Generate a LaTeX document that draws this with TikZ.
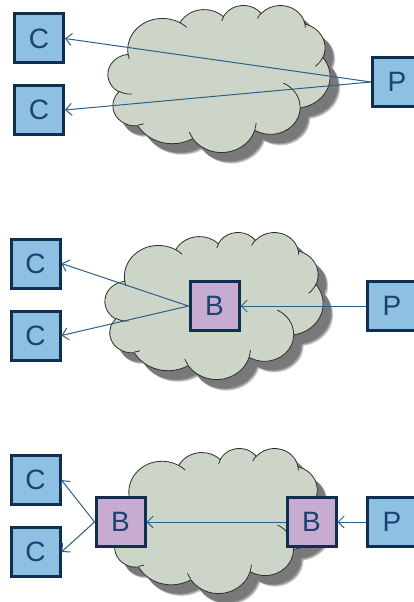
\documentclass[tikz,border=0pt]{standalone}
\usepackage{fontspec}
\setmainfont{Liberation Sans}
\usetikzlibrary{arrows.meta}
\definecolor{boxblue}{HTML}{8EC0E4}
\definecolor{boxedge}{HTML}{0E2F4F}
\definecolor{boxpurple}{HTML}{C8ABD0}
\definecolor{txt}{HTML}{1A4272}
\definecolor{cloudfill}{HTML}{CDD5C9}
\definecolor{cloudedge}{HTML}{2E2E2E}
\definecolor{arrowcol}{HTML}{2D5F8B}
\tikzset{
 oarc/.style n args={4}{x radius=#1, y radius=#2,
   start angle={atan2((#1)*sin(#3),(#2)*cos(#3))},
   delta angle={mod(atan2((#1)*sin((#3)+(#4)),(#2)*cos((#3)+(#4)))-atan2((#1)*sin(#3),(#2)*cos(#3))+720,360)}}
}
\newcommand\cloudoutline{(39.00,143.70)
 arc[oarc={67.53}{91.90}{-190.4875}{123.7805}]
 arc[oarc={53.33}{72.67}{-144.1024}{89.9452}]
 arc[oarc={43.65}{59.45}{-145.8079}{99.7230}]
 arc[oarc={48.57}{65.95}{-130.9861}{117.2417}]
 arc[oarc={53.33}{72.73}{-78.7089}{109.0269}]
 arc[oarc={67.75}{92.20}{-46.2673}{130.2690}]
 arc[oarc={57.85}{78.67}{0.6250}{114.0333}]
 arc[oarc={67.52}{92.15}{22.4516}{115.1726}]
 arc[oarc={77.20}{105.43}{66.2426}{75.7110}]
 arc[oarc={43.60}{59.18}{-274.9421}{146.7356}]
 arc[oarc={43.45}{59.45}{-246.8285}{152.5189}]
 -- cycle}
\newcommand\cloudinner{
 (46.93,261.77) arc[oarc={43.45}{59.45}{86.7420}{26.4295}]
 (69.28,348.99) arc[oarc={43.60}{59.18}{73.6105}{11.4475}]
 (164.78,390.90) arc[oarc={67.52}{92.15}{137.6242}{14.0811}]
 (288.27,347.51) arc[oarc={67.52}{92.15}{6.4533}{15.9984}]
 (341.29,229.54) arc[oarc={57.85}{78.67}{-70.2924}{70.9174}]
 (417.98,153.54) arc[oarc={53.33}{72.73}{30.3180}{27.7515}]
 (383.24,54.26) arc[oarc={48.57}{65.95}{-13.7443}{14.8633}]
 (290.78,39.52) arc[oarc={48.57}{65.95}{-149.1815}{18.1922}]
 (221.41,47.20) arc[oarc={43.65}{59.45}{-163.4943}{17.6881}]
 (140.00,51.92) arc[oarc={67.53}{91.90}{-66.7070}{12.3194}]
 (41.27,157.89) arc[oarc={67.53}{91.90}{157.6544}{11.8582}]}
% #1 left, #2 top, #3 width, #4 height (pixels)
\newcommand\netcloud[4]{%
 \begin{scope}[shift={(#1pt+10pt,-#2pt-11pt)}, x=#3pt/432, y=-#4pt/432]
  \fill[black, opacity=0.22] \cloudoutline;
 \end{scope}
 \begin{scope}[shift={(#1pt+9pt,-#2pt-10pt)}, x=#3pt/432, y=-#4pt/432]
  \fill[black, opacity=0.22] \cloudoutline;
 \end{scope}
 \begin{scope}[shift={(#1pt+8pt,-#2pt-9pt)}, x=#3pt/432, y=-#4pt/432]
  \fill[black, opacity=0.22] \cloudoutline;
 \end{scope}
 \begin{scope}[shift={(#1pt,-#2pt)}, x=#3pt/432, y=-#4pt/432]
  \filldraw[fill=cloudfill, draw=cloudedge, line width=0.8pt, line join=round] \cloudoutline;
  \draw[cloudedge, line width=0.8pt] \cloudinner;
 \end{scope}}
\begin{document}
\begin{tikzpicture}[x=1pt,y=-1pt,
 tbox/.style={draw=boxedge, line width=3pt, minimum size=49pt, inner sep=0pt, text=txt, font=\fontsize{28}{28}\selectfont},
 cbox/.style={tbox, fill=boxblue},
 bbox/.style={tbox, fill=boxpurple},
 link/.style={draw=arrowcol, line width=1pt, -{Straight Barb[length=6pt,width=12pt]}}
]
\useasboundingbox (0,0) rectangle (414,602);
\clip (0,0) rectangle (414,602);
% panel 1
\netcloud{108}{5}{222}{147}
\node[cbox] (c1a) at (39,38.5) {C};
\node[cbox] (c2a) at (39,110) {C};
\node[cbox] (pa) at (397,82) {P};
\draw[link] (pa.west) -- (c1a.east);
\draw[link] (pa.west) -- (c2a.east);
% panel 2
\netcloud{105}{232}{218}{147}
\node[cbox] (c1b) at (35.5,263.5) {C};
\node[cbox] (c2b) at (35.5,335.5) {C};
\node[bbox] (bb) at (214.5,306) {B};
\node[cbox] (pb) at (392,306) {P};
\draw[link] (bb.west) -- (c1b.east);
\draw[link] (bb.west) -- (c2b.east);
\draw[link] (pb.west) -- (bb.east);
% panel 3
\netcloud{110}{448}{212}{145}
\node[cbox] (c1c) at (35.5,480) {C};
\node[cbox] (c2c) at (35.5,552) {C};
\node[bbox] (b1) at (120.5,522) {B};
\node[bbox] (b2) at (311.5,522) {B};
\node[cbox] (pc) at (392,522) {P};
\draw[link] (b1.west) -- (c1c.east);
\draw[link] (b1.west) -- (c2c.east);
\draw[link] (b2.west) -- (b1.east);
\draw[link] (pc.west) -- (b2.east);
\end{tikzpicture}
\end{document}
